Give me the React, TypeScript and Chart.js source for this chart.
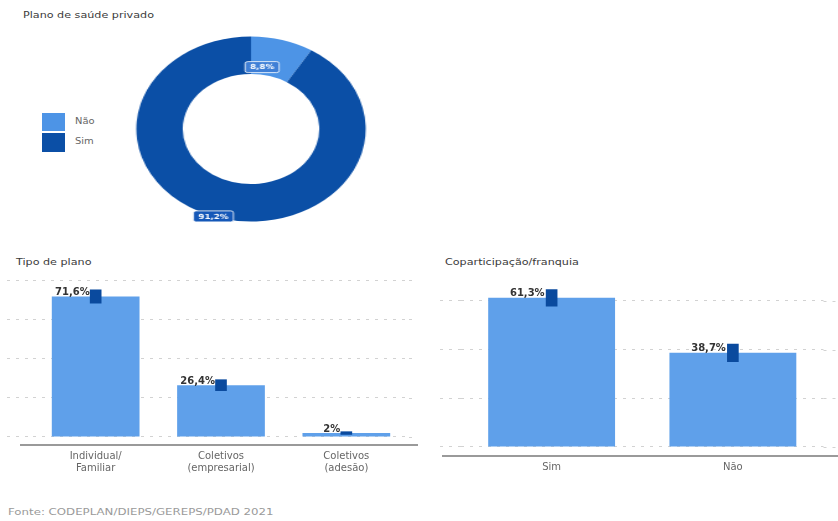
import React, { useEffect, useRef } from "react";
import { Chart, registerables } from "chart.js";

Chart.register(...registerables);

// ---------- data ----------
const donutLabels = ["Não", "Sim"];
const donutValues = [8.8, 91.2];

const tipoLabels = [["Individual/", "Familiar"], ["Coletivos", "(empresarial)"], ["Coletivos", "(adesão)"]];
const tipoValues = [71.6, 26.4, 2];
const tipoCI: [number, number][] = [[68.2, 75.0], [23.6, 29.2], [1.3, 2.7]];
const tipoTicks = [0, 20, 40, 60, 80];

const coparLabels = ["Sim", "Não"];
const coparValues = [61.3, 38.7];
const coparCI: [number, number][] = [[57.9, 64.7], [35.1, 42.3]];
const coparTicks = [0, 20, 40, 60];

// ---------- styles ----------
const LIGHT = "#4d94e6";
const DARK = "#0b4fa6";
const BAR = "#5fa0ea";
const CI = "#0a4a9e";
const FONT = "DejaVu Sans";
const STRETCH = 1.24;

const fmt = (v: number) => String(v).replace(".", ",") + "%";

function Donut() {
  const ref = useRef<HTMLCanvasElement>(null);
  useEffect(() => {
    const labelPos = [
      { a: 0.26, r: 0.2 },
      { a: 0.51, r: 1.0 },
    ];
    const labelPlugin = {
      id: "donutLabels",
      afterDatasetsDraw(chart: any) {
        const ctx = chart.ctx;
        const meta = chart.getDatasetMeta(0);
        meta.data.forEach((arc: any, i: number) => {
          const p = arc.getProps(["x", "y", "startAngle", "endAngle", "innerRadius", "outerRadius"], true);
          const lp = labelPos[i];
          const ang = p.startAngle + lp.a * (p.endAngle - p.startAngle);
          const rad = p.innerRadius + lp.r * (p.outerRadius - p.innerRadius);
          const cx = p.x + Math.cos(ang) * rad;
          const cy = p.y + Math.sin(ang) * rad;
          const txt = fmt(donutValues[i]);
          ctx.save();
          ctx.font = `bold 7px ${FONT}`;
          const w = ctx.measureText(txt).width + 8;
          const h = 11;
          ctx.beginPath();
          ctx.roundRect(cx - w / 2, cy - h / 2, w, h, 2);
          ctx.fillStyle = i === 0 ? "#3f7fd6" : "#1558b8";
          ctx.fill();
          ctx.lineWidth = 1;
          ctx.strokeStyle = "rgba(255,255,255,0.8)";
          ctx.stroke();
          ctx.fillStyle = "#ffffff";
          ctx.textAlign = "center";
          ctx.textBaseline = "middle";
          ctx.fillText(txt, cx, cy + 0.5);
          ctx.restore();
        });
      },
    };
    const chart = new Chart(ref.current!, {
      type: "doughnut",
      data: {
        labels: donutLabels,
        datasets: [{ data: donutValues, backgroundColor: [LIGHT, DARK], borderWidth: 0 }],
      },
      options: {
        responsive: false,
        animation: false,
        cutout: "59.5%",
        layout: { padding: 7.5 },
        plugins: { legend: { display: false }, tooltip: { enabled: false } },
      },
      plugins: [labelPlugin],
    } as any);
    return () => chart.destroy();
  }, []);
  return (
    <canvas
      ref={ref}
      width={200}
      height={200}
      style={{
        position: "absolute",
        left: 151,
        top: 29,
        width: 200,
        height: 200,
        transform: `scaleX(${STRETCH})`,
        transformOrigin: "center",
      }}
    />
  );
}

type BarProps = {
  labels: any[];
  values: number[];
  ci: [number, number][];
  ticks: number[];
  min: number;
  max: number;
  left: number;
  top: number;
  width: number;
  height: number;
  padding: { left: number; right: number; top: number; bottom: number };
  tickLength: number;
  labelOffset: number;
  axisLeftExt: number;
  axisRightEnd: number;
  gridRightEnd: number;
};

function BarPanel(props: BarProps) {
  const ref = useRef<HTMLCanvasElement>(null);
  useEffect(() => {
    const valuePlugin = {
      id: "valueLabels",
      beforeDatasetsDraw(chart: any) {
        const ctx = chart.ctx;
        const ys = chart.scales.y;
        const area = chart.chartArea;
        ctx.save();
        // extend dashed grid lines to the right edge
        ctx.strokeStyle = "#d2d2d2";
        ctx.lineWidth = 1;
        ctx.setLineDash([3, 6]);
        props.ticks.forEach((t) => {
          const y = Math.round(ys.getPixelForValue(t)) + 0.5;
          ctx.beginPath();
          ctx.moveTo(area.right, y);
          ctx.lineTo(props.gridRightEnd, y);
          ctx.stroke();
        });
        ctx.setLineDash([]);
        // axis line
        ctx.strokeStyle = "#9a9a9a";
        ctx.lineWidth = 2;
        ctx.beginPath();
        ctx.moveTo(area.left - props.axisLeftExt, area.bottom);
        ctx.lineTo(props.axisRightEnd, area.bottom);
        ctx.stroke();
        ctx.restore();
      },
      afterDatasetsDraw(chart: any) {
        const ctx = chart.ctx;
        const meta = chart.getDatasetMeta(1);
        ctx.save();
        ctx.font = `bold 10px ${FONT}`;
        ctx.fillStyle = "#333333";
        ctx.textAlign = "right";
        ctx.textBaseline = "bottom";
        meta.data.forEach((bar: any, i: number) => {
          ctx.fillText(fmt(props.values[i]), bar.x - props.labelOffset, bar.y + 1);
        });
        ctx.restore();
      },
    };
    const chart = new Chart(ref.current!, {
      type: "bar",
      data: {
        labels: props.labels,
        datasets: [
          {
            data: props.ci,
            backgroundColor: CI,
            grouped: false,
            barThickness: 11,
            order: 0,
          },
          {
            data: props.values,
            backgroundColor: BAR,
            grouped: false,
            barPercentage: 0.7,
            categoryPercentage: 1,
            order: 1,
          },
        ],
      },
      options: {
        responsive: false,
        animation: false,
        layout: { padding: props.padding },
        plugins: { legend: { display: false }, tooltip: { enabled: false } },
        scales: {
          x: {
            grid: { display: false, drawTicks: false },
            border: { display: false },
            ticks: { color: "#666666", font: { family: FONT, size: 10, lineHeight: 1.2 }, padding: 5, maxRotation: 0 },
          },
          y: {
            min: props.min,
            max: props.max,
            afterBuildTicks: (s: any) => {
              s.ticks = props.ticks.map((v) => ({ value: v }));
            },
            ticks: { display: false },
            grid: {
              color: "#d2d2d2",
              tickColor: "#d2d2d2",
              drawTicks: true,
              tickLength: props.tickLength,
              tickBorderDash: [3, 6],
              lineWidth: 1,
            },
            border: { display: false, dash: [3, 6] },
          },
        },
      },
      plugins: [valuePlugin],
    } as any);
    return () => chart.destroy();
  }, []);
  return (
    <canvas
      ref={ref}
      width={props.width}
      height={props.height}
      style={{ position: "absolute", left: props.left, top: props.top, width: props.width, height: props.height }}
    />
  );
}

function Txt(p: { x: number; y: number; size: number; color: string; children: any; weight?: number }) {
  return (
    <div
      style={{
        position: "absolute",
        left: p.x,
        top: p.y,
        fontFamily: FONT,
        fontSize: p.size,
        fontWeight: p.weight || 400,
        color: p.color,
        whiteSpace: "nowrap",
        lineHeight: 1,
        transform: `scaleX(${STRETCH})`,
        transformOrigin: "left center",
      }}
    >
      {p.children}
    </div>
  );
}

export default function App() {
  return (
    <div
      style={{
        position: "absolute",
        left: 0,
        top: 0,
        width: 838,
        height: 521,
        background: "#ffffff",
        overflow: "hidden",
      }}
    >
      <Txt x={23} y={11} size={9} color="#3a3a3a">Plano de saúde privado</Txt>
      <Donut />
      {/* legend */}
      <div style={{ position: "absolute", left: 42, top: 113, width: 23, height: 18, background: LIGHT }} />
      <div style={{ position: "absolute", left: 42, top: 133, width: 23, height: 19, background: DARK }} />
      <Txt x={75} y={118} size={8} color="#666">{donutLabels[0]}</Txt>
      <Txt x={75} y={138} size={8} color="#666">{donutLabels[1]}</Txt>

      <Txt x={16} y={258} size={9} color="#3a3a3a">Tipo de plano</Txt>
      <Txt x={445} y={258} size={9} color="#3a3a3a">Coparticipação/franquia</Txt>

      <BarPanel
        labels={tipoLabels}
        values={tipoValues}
        ci={tipoCI}
        ticks={tipoTicks}
        min={-4.08}
        max={80}
        left={0}
        top={250}
        width={420}
        height={230}
        padding={{ left: 7, right: 11, top: 30, bottom: 1 }}
        tickLength={26}
        labelOffset={6}
        axisLeftExt={13}
        axisRightEnd={418}
        gridRightEnd={414}
      />
      <BarPanel
        labels={coparLabels}
        values={coparValues}
        ci={coparCI}
        ticks={coparTicks}
        min={-3.7}
        max={66}
        left={420}
        top={250}
        width={418}
        height={230}
        padding={{ left: 20, right: 14.5, top: 36.4, bottom: 2 }}
        tickLength={21}
        labelOffset={7}
        axisLeftExt={19}
        axisRightEnd={418}
        gridRightEnd={418}
      />

      <Txt x={8} y={507} size={9.5} color="#9a9a9a">Fonte: CODEPLAN/DIEPS/GEREPS/PDAD 2021</Txt>
    </div>
  );
}
